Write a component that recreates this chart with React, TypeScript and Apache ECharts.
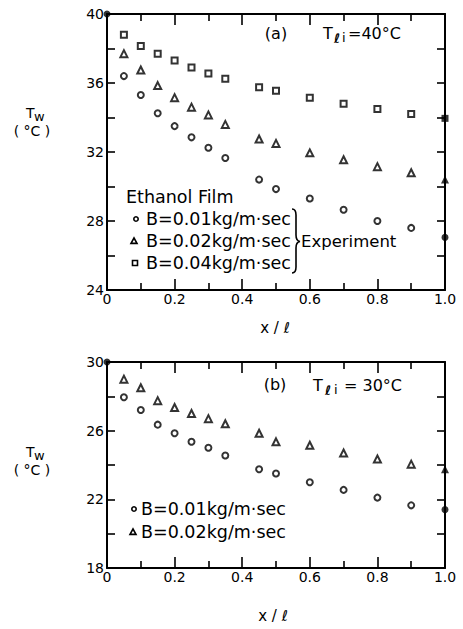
import React, { useEffect, useRef } from "react";
import * as echarts from "echarts";

// ---- data ----
const xPositions = [0.05, 0.1, 0.15, 0.2, 0.25, 0.3, 0.35, 0.45, 0.5, 0.6, 0.7, 0.8, 0.9];

// (a) T_li = 40 °C
const topB001 = [36.4, 35.3, 34.25, 33.5, 32.85, 32.25, 31.65, 30.4, 29.85, 29.3, 28.65, 28.0, 27.6];
const topB002 = [37.7, 36.75, 35.85, 35.15, 34.6, 34.15, 33.6, 32.75, 32.5, 31.95, 31.55, 31.15, 30.8];
const topB004 = [38.8, 38.15, 37.7, 37.3, 36.9, 36.55, 36.25, 35.75, 35.55, 35.15, 34.8, 34.5, 34.2];
const topEnd = { b001: 27.05, b002: 30.4, b004: 33.95 };
const topInlet = 40;

// (b) T_li = 30 °C
const botB001 = [27.95, 27.2, 26.35, 25.85, 25.35, 25.0, 24.55, 23.75, 23.5, 23.0, 22.55, 22.1, 21.65];
const botB002 = [29.0, 28.5, 27.75, 27.35, 27.0, 26.7, 26.4, 25.85, 25.35, 25.15, 24.7, 24.35, 24.05];
const botEnd = { b001: 21.4, b002: 23.75 };
const botInlet = 30;

const topYTicks = [24, 28, 32, 36, 40];
const botYTicks = [18, 22, 26, 30];
const xTickLabels = ["0", "0.2", "0.4", "0.6", "0.8", "1.0"];

const FONT = "DejaVu Sans";

const pairs = (ys: number[]) => xPositions.map((x, i) => [x, ys[i]]);

echarts.graphic.registerShape(
  "brace",
  echarts.graphic.extendPath(
    "M0 0 Q4 0 4 6 L4 26 Q4 32 8 32.5 Q4 33 4 39 L4 58 Q4 64 0 64",
    {}
  )
);

function txt(text: string, x: number, y: number, size: number, align = "left", weight = "normal") {
  return {
    type: "text",
    x,
    y,
    silent: true,
    style: {
      text,
      fontSize: size,
      fontFamily: FONT,
      fontWeight: weight,
      fill: "#000",
      align,
      verticalAlign: "middle",
      textAlign: align,
      textVerticalAlign: "middle",
    },
  };
}

const glyphStyle = { stroke: "#000", fill: "#fff", lineWidth: 1.6 };
const circ = (x: number, y: number) => ({ type: "circle", silent: true, shape: { cx: x, cy: y, r: 2.2 }, style: glyphStyle });
const tri = (x: number, y: number) => ({
  type: "polygon",
  silent: true,
  shape: { points: [[x, y - 3], [x + 3, y + 2.4], [x - 3, y + 2.4]] },
  style: glyphStyle,
});
const sq = (x: number, y: number) => ({ type: "rect", silent: true, shape: { x: x - 2.5, y: y - 2.5, width: 5, height: 5 }, style: glyphStyle });

function xAxisDef(gridIndex: number, position: string, labels: boolean) {
  return {
    type: "value",
    gridIndex,
    position,
    min: 0,
    max: 1,
    interval: 0.2,
    axisLine: { show: true, onZero: false, lineStyle: { color: "#000", width: 2 } },
    axisTick: { show: true, inside: true, length: 11, lineStyle: { color: "#000", width: 1.6 } },
    minorTick: { show: true, splitNumber: 2, length: 7, lineStyle: { color: "#000", width: 1.6 } },
    splitLine: { show: false },
    axisLabel: {
      show: labels,
      margin: 2,
      color: "#000",
      fontSize: 14,
      fontFamily: FONT,
      formatter: (v: number) => xTickLabels[Math.round(v * 5)] ?? "",
    },
  };
}

function yAxisDef(gridIndex: number, position: string, min: number, max: number, labelVals: number[], labels: boolean) {
  return {
    type: "value",
    gridIndex,
    position,
    min,
    max,
    interval: 2,
    axisLine: { show: true, onZero: false, lineStyle: { color: "#000", width: 2 } },
    axisTick: { show: true, inside: true, length: 8, lineStyle: { color: "#000", width: 1.6 } },
    splitLine: { show: false },
    axisLabel: {
      show: labels,
      margin: 3,
      color: "#000",
      fontSize: 14,
      fontFamily: FONT,
      formatter: (v: number) => (labelVals.includes(v) ? String(v) : ""),
    },
  };
}

function openSeries(name: string, data: number[][], symbol: string, size: number, xi: number, yi: number) {
  return {
    name,
    type: "scatter",
    xAxisIndex: xi,
    yAxisIndex: yi,
    data,
    symbol,
    symbolSize: size,
    itemStyle: { color: "#000", borderColor: "#000", borderWidth: 1.5 },
    z: 5,
  };
}

function filledSeries(name: string, data: number[][], symbol: string, size: number, xi: number, yi: number) {
  return {
    name,
    type: "scatter",
    xAxisIndex: xi,
    yAxisIndex: yi,
    data,
    symbol,
    symbolSize: size,
    itemStyle: { color: "#000" },
    z: 6,
  };
}

export default function App() {
  const ref = useRef<HTMLDivElement>(null);

  useEffect(() => {
    if (!ref.current) return;
    const chart = echarts.init(ref.current, null, { renderer: "svg" });

    const option: any = {
      animation: false,
      backgroundColor: "#fff",
      grid: [
        { left: 107, right: 18, top: 14, height: 276 },
        { left: 107, right: 18, top: 362, height: 206 },
      ],
      xAxis: [
        xAxisDef(0, "bottom", true),
        xAxisDef(0, "top", false),
        xAxisDef(1, "bottom", true),
        xAxisDef(1, "top", false),
      ],
      yAxis: [
        yAxisDef(0, "left", 24, 40, topYTicks, true),
        yAxisDef(0, "right", 24, 40, topYTicks, false),
        yAxisDef(1, "left", 18, 30, botYTicks, true),
        yAxisDef(1, "right", 18, 30, botYTicks, false),
      ],
      series: [
        openSeries("a B=0.01", pairs(topB001), "emptyCircle", 6, 0, 0),
        openSeries("a B=0.02", pairs(topB002), "emptyTriangle", 7, 0, 0),
        openSeries("a B=0.04", pairs(topB004), "emptyRect", 6, 0, 0),
        filledSeries("a end circle", [[1, topEnd.b001]], "circle", 7, 0, 0),
        filledSeries("a end triangle", [[1, topEnd.b002]], "triangle", 8, 0, 0),
        filledSeries("a end square", [[1, topEnd.b004]], "rect", 7, 0, 0),
        filledSeries("a inlet", [[0, topInlet]], "circle", 7, 0, 0),
        openSeries("b B=0.01", pairs(botB001), "emptyCircle", 6, 2, 2),
        openSeries("b B=0.02", pairs(botB002), "emptyTriangle", 7, 2, 2),
        filledSeries("b end circle", [[1, botEnd.b001]], "circle", 7, 2, 2),
        filledSeries("b end triangle", [[1, botEnd.b002]], "triangle", 8, 2, 2),
        filledSeries("b inlet", [[0, botInlet]], "circle", 7, 2, 2),
      ],
      graphic: [
        // panel (a)
        txt("(a)", 276, 33, 16, "center"),
        txt("T", 323, 33, 16),
        txt("ℓ", 334, 38, 13, "left", "bold"),
        txt("i", 342, 37, 13),
        txt("=40°C", 348, 33, 16),
        txt("Ethanol Film", 126, 197, 17.5),
        circ(136, 219),
        txt("B=0.01kg/m·sec", 146, 219, 17.5),
        tri(134, 241),
        txt("B=0.02kg/m·sec", 146, 241, 17.5),
        sq(135, 263),
        txt("B=0.04kg/m·sec", 146, 263, 17.5),
        { type: "brace", x: 292, y: 209, silent: true, style: { stroke: "#000", fill: null, lineWidth: 1.6 } },
        txt("Experiment", 301, 241, 16.5),
        txt("x / ℓ", 275, 328, 15, "center"),
        txt("T", 26, 113, 14),
        txt("w", 34, 116, 13),
        txt("( °C )", 32, 131, 14, "center"),
        // panel (b)
        txt("(b)", 275, 384, 16, "center"),
        txt("T", 313, 385, 16),
        txt("ℓ", 325, 390, 13, "left", "bold"),
        txt("i", 334, 389, 13),
        txt("= 30°C", 344, 385, 16),
        circ(134, 509),
        txt("B=0.01kg/m·sec", 141, 509, 17.5),
        tri(133, 532),
        txt("B=0.02kg/m·sec", 141, 532, 17.5),
        txt("x / ℓ", 273, 616, 15, "center"),
        txt("T", 26, 452, 14),
        txt("w", 34, 455, 13),
        txt("( °C )", 32, 470, 14, "center"),
      ],
    };

    chart.setOption(option);
    return () => chart.dispose();
  }, []);

  return (
    <div
      ref={ref}
      style={{ position: "fixed", left: 0, top: 0, width: 463, height: 629, background: "#fff" }}
    />
  );
}
